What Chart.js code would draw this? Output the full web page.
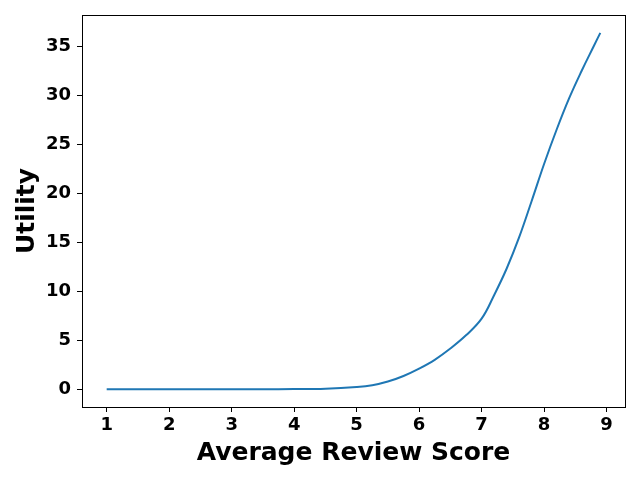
<!DOCTYPE html>
<html>
<head>
<meta charset="utf-8">
<script src="https://cdn.jsdelivr.net/npm/chart.js@4/dist/chart.umd.min.js"></script>
<style>
  html, body { margin: 0; padding: 0; background: #fff; }
  #wrap { width: 640px; height: 480px; }
</style>
</head>
<body>
<div id="wrap"><canvas id="utilChart" width="640" height="480"></canvas></div>
<script>
// Data
const scores = [1, 1.5, 2, 2.5, 3, 3.5, 4, 4.5, 5, 5.25, 5.5, 5.75, 6, 6.25, 6.5, 6.75, 7, 7.2, 7.4, 7.6, 7.8, 8, 8.2, 8.4, 8.6, 8.8, 8.9];
const utility = [0, 0, 0, 0, 0, 0, 0.01, 0.05, 0.22, 0.4, 0.78, 1.35, 2.1, 3.0, 4.15, 5.5, 7.2, 9.6, 12.3, 15.5, 19.2, 23.0, 26.5, 29.7, 32.5, 35.1, 36.4];
const xTicks = [1, 2, 3, 4, 5, 6, 7, 8, 9];
const yTicks = [0, 5, 10, 15, 20, 25, 30, 35];

const tickFont = { family: 'DejaVu Sans', size: 18, weight: 'bold' };
const titleFont = { family: 'DejaVu Sans', size: 25, weight: 'bold' };

// draw the full box around the plot like matplotlib
const frameBox = {
    id: 'frameBox',
    afterDraw(chart) {
        const a = chart.chartArea;
        const c = chart.ctx;
        c.save();
        c.strokeStyle = '#000';
        c.lineWidth = 1;
        c.strokeRect(Math.round(a.left) + 0.5, Math.round(a.top) + 0.5, Math.round(a.right - a.left), Math.round(a.bottom - a.top));
        c.restore();
    }
};

const ctx = document.getElementById('utilChart').getContext('2d');
const utilChart = new Chart(ctx, {
    type: 'line',
    data: {
        datasets: [{
            data: scores.map((s, i) => ({ x: s, y: utility[i] })),
            borderColor: '#1f77b4',
            borderWidth: 2,
            pointRadius: 0,
            fill: false,
            tension: 0.4
        }]
    },
    options: {
        responsive: false,
        animation: false,
        layout: { padding: { top: 15, right: 15, left: 0, bottom: 0 } },
        plugins: { legend: { display: false }, tooltip: { enabled: false } },
        scales: {
            x: {
                type: 'linear',
                min: 0.605,
                max: 9.295,
                afterBuildTicks: s => { s.ticks = xTicks.map(v => ({ value: v })); },
                afterFit: s => { s.height = 73; s.paddingLeft = 0; s.paddingRight = 0; },
                grid: { drawOnChartArea: false, drawTicks: true, tickLength: 5, color: '#000' },
                border: { display: true, color: '#000' },
                ticks: { color: '#000', font: tickFont, padding: 3, maxRotation: 0 },
                title: { display: true, text: 'Average Review Score', color: '#000', font: titleFont, padding: { top: 4, bottom: 12 } }
            },
            y: {
                min: -1.82,
                max: 38.22,
                afterBuildTicks: s => { s.ticks = yTicks.map(v => ({ value: v })); },
                afterFit: s => { s.width = 82; s.paddingTop = 0; s.paddingBottom = 0; },
                grid: { drawOnChartArea: false, drawTicks: true, tickLength: 5, color: '#000' },
                border: { display: true, color: '#000' },
                ticks: { color: '#000', font: tickFont, padding: 6 },
                title: { display: true, text: 'Utility', color: '#000', font: titleFont, padding: { top: 12, bottom: 4 } }
            }
        }
    },
    plugins: [frameBox]
});
</script>
</body>
</html>
